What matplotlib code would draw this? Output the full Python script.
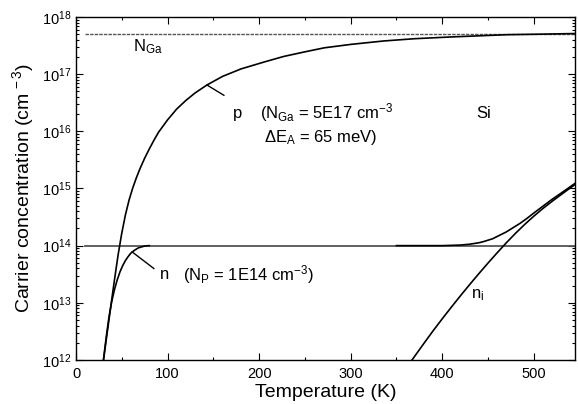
import numpy as np
import matplotlib
matplotlib.use("Agg")
import matplotlib.pyplot as plt
from matplotlib.ticker import LogLocator, MultipleLocator, NullFormatter

plt.rcParams['font.family'] = ['Liberation Sans', 'DejaVu Sans']
plt.rcParams['mathtext.fontset'] = 'custom'
plt.rcParams['mathtext.rm'] = 'Liberation Sans'
plt.rcParams['mathtext.it'] = 'Liberation Sans'
plt.rcParams['mathtext.default'] = 'regular'

# Hole concentration p (Ga-doped Si), log10 of cm^-3
T_p = [30, 34, 38, 42, 46, 50, 54, 58, 62, 66, 70, 75, 80, 85, 90, 100, 110,
       120, 130, 143, 160, 180, 205, 227, 250, 271, 300, 336, 370, 409, 440,
       471, 510, 546]
log_p = [12.00, 12.47, 12.94, 13.40, 13.84, 14.22, 14.54, 14.80, 15.01, 15.19,
         15.35, 15.53, 15.69, 15.84, 15.98, 16.20, 16.39, 16.54, 16.67, 16.81,
         16.96, 17.09, 17.21, 17.31, 17.39, 17.46, 17.52, 17.58, 17.62, 17.65,
         17.67, 17.69, 17.70, 17.71]

# Electron concentration n (P-doped Si): freeze-out branch and high-T branch
T_n_low = [30, 33, 36, 39, 42, 45, 48, 51, 54, 57, 60, 64, 68, 72, 76, 80]
log_n_low = [12.0, 12.4, 12.75, 13.02, 13.23, 13.4, 13.54, 13.65, 13.74, 13.81,
             13.87, 13.92, 13.96, 13.98, 13.995, 14.0]
T_n_high = [350, 400, 420, 430, 440, 445, 455, 460, 470, 478, 485, 492, 500,
            510, 520, 530, 546]
log_n_high = [14.0, 14.0, 14.01, 14.025, 14.05, 14.07, 14.12, 14.16, 14.24,
              14.32, 14.39, 14.47, 14.57, 14.69, 14.81, 14.92, 15.10]

# Intrinsic carrier concentration n_i
T_ni = [367, 380, 390, 400, 410, 420, 430, 440, 450, 460, 470, 480, 490, 500,
        510, 520, 533, 546]
log_ni = [12.00, 12.29, 12.51, 12.72, 12.925, 13.125, 13.32, 13.51, 13.695,
          13.875, 14.05, 14.215, 14.37, 14.515, 14.65, 14.775, 14.93, 15.08]

# Dopant levels
N_Ga = 5e17
N_P = 1e14
T_start_levels = 10
T_max = 545

fig = plt.figure(figsize=(5.78, 4.04), dpi=100)
ax = fig.add_axes([0.1315, 0.109, 0.8633, 0.849])

ax.plot([T_start_levels, T_max], [N_Ga, N_Ga], color='#555555', lw=1.0,
        ls=(0, (2.5, 0.8)))
ax.plot([T_start_levels, T_max], [N_P, N_P], color='#555555', lw=1.3)

curve_kw = dict(color='black', lw=1.2, solid_joinstyle='round')
ax.plot(T_p, np.power(10.0, log_p), **curve_kw)
ax.plot(T_n_low, np.power(10.0, log_n_low), **curve_kw)
ax.plot(T_n_high, np.power(10.0, log_n_high), **curve_kw)
ax.plot(T_ni, np.power(10.0, log_ni), **curve_kw)

# Leader lines for the curve labels
ax.plot([143, 161.5], [10**16.81, 10**16.63], color='black', lw=1.0)
ax.plot([61.3, 85], [10**13.89, 10**13.6], color='black', lw=1.0)

ax.set_yscale('log')
ax.set_xlim(0, T_max)
ax.set_ylim(1e12, 1e18)

ax.xaxis.set_major_locator(MultipleLocator(100))
ax.xaxis.set_minor_locator(MultipleLocator(50))
ax.yaxis.set_major_locator(LogLocator(base=10, numticks=10))
ax.yaxis.set_minor_locator(LogLocator(base=10, subs=np.arange(2, 10), numticks=20))
ax.yaxis.set_minor_formatter(NullFormatter())
ax.tick_params(which='both', direction='in', top=True, right=True,
               labelsize=10.5, width=0.8)
ax.tick_params(which='major', length=5)
ax.tick_params(which='minor', length=2.5)
ax.tick_params(axis='x', pad=5)
for s in ax.spines.values():
    s.set_linewidth(1.0)

ax.set_xlabel('Temperature (K)', fontsize=14, labelpad=2)
ax.set_ylabel('Carrier concentration (cm$^{\\,-3}$)', fontsize=14, labelpad=4)

fs = 12
ax.text(62, 10**17.48, 'N$_{Ga}$', fontsize=fs, va='center', ha='left')
ax.text(171, 10**16.32, 'p', fontsize=fs, va='center', ha='left')
ax.text(201, 10**16.32, '(N$_{Ga}$ = 5E17 cm$^{-3}$', fontsize=fs, va='center', ha='left')
ax.text(205, 10**15.9, '$\\Delta$E$_{A}$ = 65 meV)', fontsize=fs, va='center', ha='left')
ax.text(437, 10**16.32, 'Si', fontsize=fs, va='center', ha='left')
ax.text(92, 10**13.5, 'n', fontsize=fs, va='center', ha='left')
ax.text(117, 10**13.5, '(N$_{P}$ = 1E14 cm$^{-3}$)', fontsize=fs, va='center', ha='left')
ax.text(431, 10**13.14, 'n$_{i}$', fontsize=fs, va='center', ha='left')

fig.savefig('out.png', dpi=100)
